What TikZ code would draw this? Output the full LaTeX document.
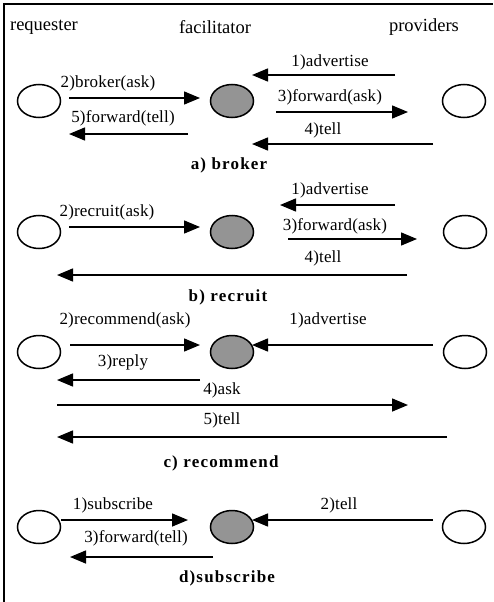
\documentclass[tikz,border=0pt]{standalone}
\usepackage{fontspec}
\setmainfont{Liberation Serif}
\newfontfamily\lblfont[LetterSpace=1]{Liberation Serif}
\newfontfamily\capfont[LetterSpace=7]{Liberation Serif}
\usetikzlibrary{arrows.meta,shapes.geometric}

\begin{document}
\begin{tikzpicture}[x=1pt,y=-1pt,
  agent/.style={draw,line width=1.5pt,ellipse,minimum width=43pt,minimum height=33pt,inner sep=0pt},
  hub/.style={agent,fill=black!42},
  msg/.style={line width=1.5pt,-{Triangle[length=16pt,width=13pt]}},
  lbl/.style={font=\lblfont\fontsize{17}{17}\selectfont,inner sep=0pt},
  head/.style={font=\rmfamily\fontsize{18.5}{18.5}\selectfont,inner sep=0pt},
  capt/.style={font=\capfont\bfseries\fontsize{17}{17}\selectfont,inner sep=0pt}]

\useasboundingbox (0,0) rectangle (493,602);

% frame
\draw[line width=1.5pt] (4,602) -- (4,4) -- (493,4);

% column headings
\node[head] (hreq)  at (44,27)  {requester};
\node[head] (hfac)  at (215,27) {facilitator};
\node[head] (hprov) at (424,27) {providers};

% ---------------- a) broker ----------------
\node[agent] (ra) at (39,101)  {};
\node[hub]   (fa) at (232,101) {};
\node[agent] (pa) at (464,101) {};

\coordinate (a1s) at (395,75);  \coordinate (a1e) at (252,75);
\coordinate (a2s) at (69,98);   \coordinate (a2e) at (200,98);
\coordinate (a3s) at (276,112); \coordinate (a3e) at (408,112);
\coordinate (a5s) at (188,134); \coordinate (a5e) at (69,134);
\coordinate (a4s) at (433,144); \coordinate (a4e) at (252,144);
\draw[msg] (a1s) -- (a1e);
\draw[msg] (a2s) -- (a2e);
\draw[msg] (a3s) -- (a3e);
\draw[msg] (a5s) -- (a5e);
\draw[msg] (a4s) -- (a4e);
\node[lbl] (la1) at (330,62)  {1)advertise};
\node[lbl] (la2) at (108,83)  {2)broker(ask)};
\node[lbl] (la3) at (330,97)  {3)forward(ask)};
\node[lbl] (la5) at (123,118) {5)forward(tell)};
\node[lbl] (la4) at (323,130) {4)tell};
\node[capt] (ca) at (229,165) {a) broker};

% ---------------- b) recruit ----------------
\node[agent] (rb) at (39,232)  {};
\node[hub]   (fb) at (232,232) {};
\node[agent] (pb) at (465,232) {};

\coordinate (b1s) at (395,205); \coordinate (b1e) at (280,205);
\coordinate (b2s) at (69,227);  \coordinate (b2e) at (200,227);
\coordinate (b3s) at (288,239); \coordinate (b3e) at (417,239);
\coordinate (b4s) at (407,275); \coordinate (b4e) at (57,275);
\draw[msg] (b1s) -- (b1e);
\draw[msg] (b2s) -- (b2e);
\draw[msg] (b3s) -- (b3e);
\draw[msg] (b4s) -- (b4e);
\node[lbl] (lb1) at (330,190) {1)advertise};
\node[lbl] (lb2) at (107,212) {2)recruit(ask)};
\node[lbl] (lb3) at (335,226) {3)forward(ask)};
\node[lbl] (lb4) at (323,258) {4)tell};
\node[capt] (cb) at (228,297) {b) recruit};

% ---------------- c) recommend ----------------
\node[agent] (rc) at (39,352)  {};
\node[hub]   (fc) at (232,352) {};
\node[agent] (pc) at (465,352) {};

\coordinate (c2s) at (70,345);  \coordinate (c2e) at (200,345);
\coordinate (c1s) at (433,345); \coordinate (c1e) at (252,345);
\coordinate (c3s) at (200,380); \coordinate (c3e) at (57,380);
\coordinate (c4s) at (57,405);  \coordinate (c4e) at (408,405);
\coordinate (c5s) at (447,437); \coordinate (c5e) at (57,437);
\draw[msg] (c2s) -- (c2e);
\draw[msg] (c1s) -- (c1e);
\draw[msg] (c3s) -- (c3e);
\draw[msg] (c4s) -- (c4e);
\draw[msg] (c5s) -- (c5e);
\node[lbl] (lc2) at (125,320) {2)recommend(ask)};
\node[lbl] (lc1) at (328,320) {1)advertise};
\node[lbl] (lc3) at (123,362) {3)reply};
\node[lbl] (lc4) at (222,390) {4)ask};
\node[lbl] (lc5) at (222,420) {5)tell};
\node[capt] (cc) at (221,463) {c) recommend};

% ---------------- d) subscribe ----------------
\node[agent] (rd) at (39,527)  {};
\node[hub]   (fd) at (232,527) {};
\node[agent] (pd) at (464,527) {};

\coordinate (d1e) at (188,520);
\coordinate (d2s) at (433,520); \coordinate (d2e) at (252,520);
\coordinate (d3s) at (213,557); \coordinate (d3e) at (70,557);
\draw[msg] (rd.east |- d1e) -- (d1e);
\draw[msg] (d2s) -- (d2e);
\draw[msg] (d3s) -- (d3e);
\node[lbl] (ld1) at (113,505) {1)subscribe};
\node[lbl] (ld2) at (339,505) {2)tell};
\node[lbl] (ld3) at (136,538) {3)forward(tell)};
\node[capt] (cd) at (227,578) {d)subscribe};

\end{tikzpicture}
\end{document}
